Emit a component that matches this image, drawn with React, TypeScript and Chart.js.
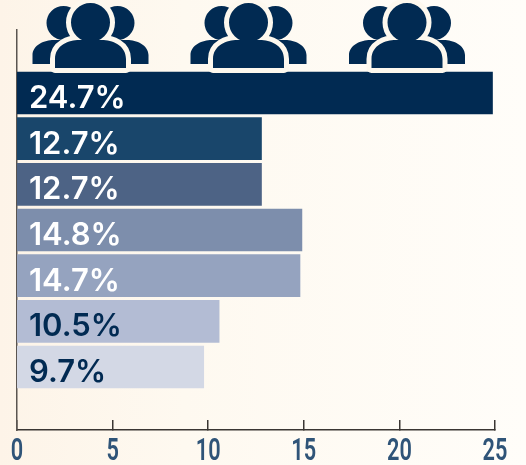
import React, { useEffect, useRef } from "react";
import { Chart, registerables } from "chart.js";

Chart.register(...registerables);

const positions = [1, 2, 3, 4, 5, 6, 7];
const values = [24.7, 12.7, 12.7, 14.8, 14.7, 10.5, 9.7];
const barColors = ["#012a52", "#19466b", "#4d6385", "#7d8eac", "#95a3bf", "#b3bcd4", "#d3d8e5"];
const labelColors = ["#ffffff", "#ffffff", "#ffffff", "#ffffff", "#ffffff", "#012a52", "#012a52"];
const xTicks = [0, 5, 10, 15, 20, 25];
const iconCentres = [90.5, 248.5, 407];

const NAVY = "#012a52";

function person(ctx: CanvasRenderingContext2D, cx: number, headY: number, headR: number, bodyW: number, bodyTop: number, bodyBottom: number) {
  ctx.beginPath();
  ctx.arc(cx, headY, headR, 0, Math.PI * 2);
  ctx.closePath();
  const half = bodyW / 2;
  ctx.moveTo(cx - half, bodyBottom);
  ctx.lineTo(cx - half, bodyBottom - 9);
  ctx.bezierCurveTo(cx - half, bodyTop + 5, cx - half * 0.6, bodyTop, cx - half * 0.32, bodyTop);
  ctx.lineTo(cx + half * 0.32, bodyTop);
  ctx.bezierCurveTo(cx + half * 0.6, bodyTop, cx + half, bodyTop + 5, cx + half, bodyBottom - 9);
  ctx.lineTo(cx + half, bodyBottom);
  ctx.closePath();
}

const decorations = {
  id: "decorations",
  beforeDraw(chart: any) {
    const { ctx, width, height } = chart;
    const g = ctx.createLinearGradient(0, 0, width, 0);
    g.addColorStop(0, "#fdf4e8");
    g.addColorStop(0.35, "#fef9f0");
    g.addColorStop(1, "#fffdf9");
    ctx.save();
    ctx.fillStyle = g;
    ctx.fillRect(0, 0, width, height);
    ctx.restore();
  },
  afterDraw(chart: any) {
    const { ctx } = chart;
    ctx.save();
    ctx.fillStyle = NAVY;
    for (const cx of iconCentres) {
      person(ctx, cx - 27, 23, 17, 62, 40, 64);
      ctx.fill();
      person(ctx, cx + 27, 23, 17, 62, 40, 64);
      ctx.fill();
      person(ctx, cx, 22.5, 19.5, 71, 40, 68);
      ctx.strokeStyle = "#fdf8ee";
      ctx.lineWidth = 10;
      ctx.lineJoin = "round";
      ctx.stroke();
      ctx.fill();
    }
    const meta = chart.getDatasetMeta(0);
    ctx.font = "600 31px Inter";
    ctx.textBaseline = "alphabetic";
    ctx.textAlign = "left";
    meta.data.forEach((bar: any, i: number) => {
      ctx.fillStyle = labelColors[i];
      ctx.fillText(values[i].toFixed(1) + "%", 29, bar.y + 15);
    });
    // condensed tick labels, positioned by the x scale
    const xs = chart.scales.x;
    ctx.font = "600 32px Roboto";
    ctx.textAlign = "center";
    ctx.textBaseline = "alphabetic";
    ctx.fillStyle = "#2f5478";
    xTicks.forEach((t) => {
      ctx.save();
      ctx.translate(xs.getPixelForValue(t), 459.5);
      ctx.scale(0.68, 1);
      ctx.fillText(String(t), 0, 0);
      ctx.restore();
    });
    ctx.restore();
  },
};

export default function App() {
  const ref = useRef<HTMLCanvasElement>(null);
  useEffect(() => {
    const chart = new Chart(ref.current!, {
      type: "bar",
      data: {
        datasets: [
          {
            data: positions.map((p, i) => ({ x: values[i], y: p })),
            backgroundColor: barColors,
            barThickness: 42,
            xAxisID: "x2",
            yAxisID: "y",
          },
        ],
      },
      options: {
        indexAxis: "y",
        animation: false,
        responsive: false,
        layout: { padding: { left: 17, right: 31, top: 30, bottom: 0 } },
        plugins: { legend: { display: false }, tooltip: { enabled: false } },
        scales: {
          x: {
            type: "linear",
            position: "bottom",
            min: 0,
            max: 25,
            afterFit: (s: any) => { s.height = 35; },
            afterBuildTicks: (s: any) => { s.ticks = xTicks.map((value) => ({ value })); },
            border: { display: true, color: "#3a3633", width: 1.5 },
            grid: { drawOnChartArea: false, drawTicks: true, tickLength: -10, color: "#3a3633", lineWidth: 1.5 },
            ticks: { display: false },
          },
          x2: { type: "linear", display: false, min: 0, max: 24.83 },
          y: {
            type: "linear",
            reverse: true,
            offset: false,
            min: -0.38,
            max: 8.38,
            afterFit: (s: any) => { s.width = 0; },
            ticks: { display: false },
            grid: { display: false, offset: false },
            border: { display: true, color: "#5a5550", width: 1.5 },
          },
        },
      } as any,
      plugins: [decorations],
    });
    return () => chart.destroy();
  }, []);
  return (
    <div style={{ position: "absolute", left: 0, top: 0, width: 526, height: 465 }}>
      <canvas ref={ref} width={526} height={465} style={{ display: "block" }} />
    </div>
  );
}
